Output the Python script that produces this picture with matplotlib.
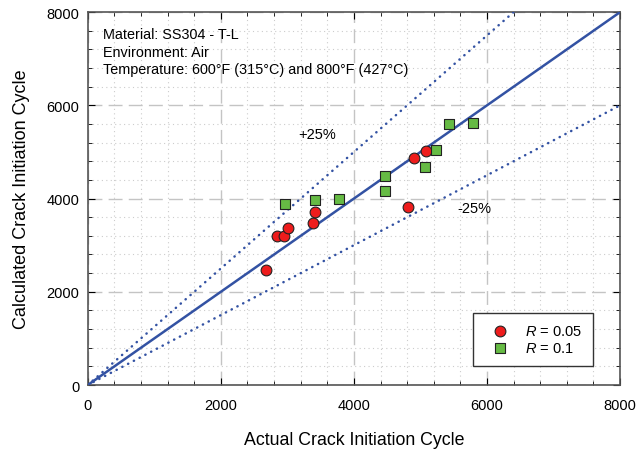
import matplotlib
matplotlib.use("Agg")
import matplotlib.pyplot as plt
from matplotlib.ticker import MultipleLocator

plt.rcParams['font.family'] = ['Liberation Sans', 'DejaVu Sans']
plt.rcParams['mathtext.fontset'] = 'custom'
plt.rcParams['mathtext.it'] = 'Liberation Sans:italic'
plt.rcParams['mathtext.rm'] = 'Liberation Sans'

r005_actual = [2680, 2850, 2950, 3010, 3380, 3420, 4810, 4900, 5080]
r005_calc = [2470, 3200, 3200, 3370, 3480, 3720, 3810, 4860, 5030]
r01_actual = [2960, 3420, 3770, 4470, 4460, 5070, 5230, 5430, 5790]
r01_calc = [3880, 3970, 3980, 4480, 4160, 4680, 5040, 5610, 5630]
line_x = [0, 8000]
band_factors = [1.25, 0.75]

fig = plt.figure(figsize=(6.36, 4.52), dpi=100)
ax = fig.add_axes([0.138, 0.146, 0.837, 0.825])

ax.set_xlim(0, 8000)
ax.set_ylim(0, 8000)
ax.xaxis.set_major_locator(MultipleLocator(2000))
ax.yaxis.set_major_locator(MultipleLocator(2000))
ax.xaxis.set_minor_locator(MultipleLocator(400))
ax.yaxis.set_minor_locator(MultipleLocator(400))
ax.grid(which='major', color='#c4c4c4', linestyle=(0, (10, 4.5)), linewidth=1.0)
ax.grid(which='minor', color='#cccccc', linestyle=(0, (1, 3)), linewidth=0.8)
ax.set_axisbelow(True)
ax.tick_params(which='both', direction='in', top=True, right=True, labelsize=10.5)
ax.tick_params(axis='x', which='major', pad=9)
ax.tick_params(axis='y', which='major', pad=6)
ax.tick_params(which='major', length=5)
ax.tick_params(which='minor', length=3)
for s in ax.spines.values():
    s.set_color('#555555')
    s.set_linewidth(1.2)

blue = '#3352a3'
ax.plot(line_x, line_x, color=blue, linewidth=1.8, zorder=3)
for f in band_factors:
    ax.plot(line_x, [v * f for v in line_x], color=blue, linestyle=(0, (0.1, 2.5)),
            linewidth=1.8, dash_capstyle='round', zorder=3)

ax.scatter(r005_actual, r005_calc, s=60, marker='o', facecolor='#ee1c1c',
           edgecolor='#222222', linewidth=0.8, zorder=5, label=r'$\it{R}$ = 0.05')
ax.scatter(r01_actual, r01_calc, s=42, marker='s', facecolor='#66bb44',
           edgecolor='#222222', linewidth=0.8, zorder=5, label=r'$\it{R}$ = 0.1')

ax.text(3170, 5380, '+25%', fontsize=10.5, va='center')
ax.text(5560, 3800, '-25%', fontsize=10.5, va='center')
ax.text(230, 7680, 'Material: SS304 - T-L\nEnvironment: Air\nTemperature: 600°F (315°C) and 800°F (427°C)',
        fontsize=10.4, va='top', linespacing=1.33)

leg = ax.legend(loc='lower right', bbox_to_anchor=(0.949, 0.051), fontsize=10.5,
                fancybox=False, edgecolor='#333333', framealpha=1,
                borderpad=0.75, handletextpad=0.6, borderaxespad=0, labelspacing=0.2,
                handlelength=2.2)
leg.get_frame().set_linewidth(1.0)

ax.set_xlabel('Actual Crack Initiation Cycle', fontsize=12.8, labelpad=14)
ax.set_ylabel('Calculated Crack Initiation Cycle', fontsize=13, labelpad=12)

fig.savefig('out.png', dpi=100)
